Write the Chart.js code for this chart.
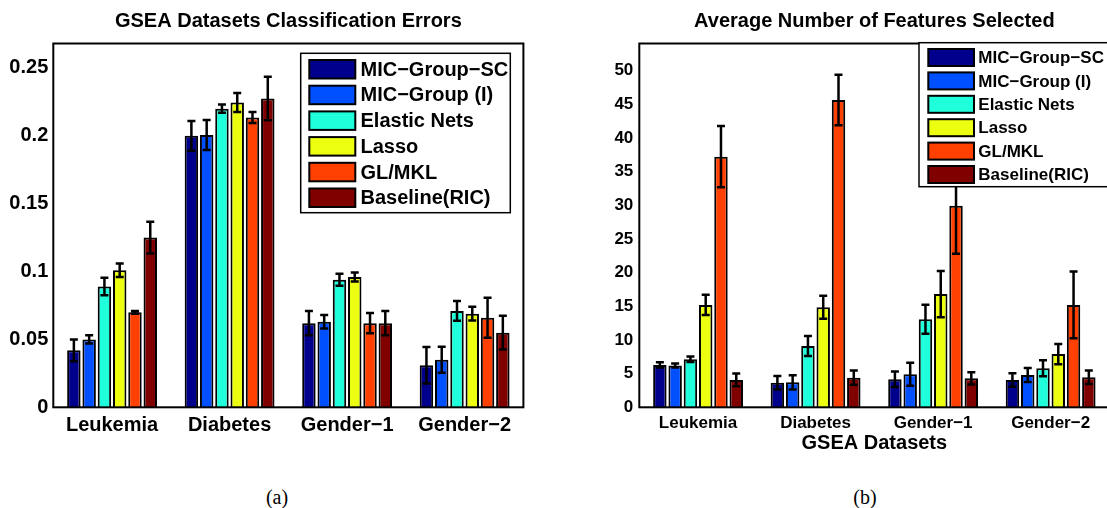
<!DOCTYPE html>
<html>
<head>
<meta charset="utf-8">
<script src="https://cdn.jsdelivr.net/npm/chart.js@4.4.0/dist/chart.umd.min.js"></script>
<style>
  html, body { margin: 0; padding: 0; background: #fff; }
  body { width: 1107px; height: 508px; overflow: hidden; position: relative; }
  canvas { position: absolute; top: 0; }
  #chartA { left: 0; }
  #chartB { left: 586px; }
  .cap { position: absolute; top: 486px; line-height: 20px; font: 20px "Liberation Serif", "Times New Roman", serif; transform: translateX(-50%); }
</style>
</head>
<body>
<canvas id="chartA" width="560" height="470"></canvas>
<canvas id="chartB" width="560" height="470"></canvas>
<div class="cap" style="left:277px">(a)</div>
<div class="cap" style="left:865px">(b)</div>
<script>
// GSEA datasets (x categories) and methods (bar series)
const datasets = ["Leukemia", "Diabetes", "Gender\u22121", "Gender\u22122"];
const methods = ["MIC\u2212Group\u2212SC", "MIC\u2212Group (I)", "Elastic Nets", "Lasso", "GL/MKL", "Baseline(RIC)"];
const methodColors = ["#00008c", "#0050ff", "#20ffdc", "#ecff10", "#ff4000", "#800000"];

// (a) classification errors, one row per method
const errMean = [
    [0.042, 0.200, 0.062, 0.031],
    [0.050, 0.2006, 0.063, 0.035],
    [0.089, 0.220, 0.094, 0.071],
    [0.101, 0.2245, 0.096, 0.069],
    [0.070, 0.2135, 0.062, 0.066],
    [0.125, 0.2275, 0.062, 0.055]
];
const errSd = [
    [0.008, 0.011, 0.009, 0.0135],
    [0.003, 0.011, 0.005, 0.0096],
    [0.0065, 0.003, 0.0044, 0.0073],
    [0.005, 0.007, 0.0033, 0.005],
    [0.001, 0.004, 0.0074, 0.0147],
    [0.0117, 0.016, 0.009, 0.0125]
];
const errTicks = [0, 0.05, 0.1, 0.15, 0.2, 0.25];

// (b) average number of features selected
const featMean = [
    [6.29, 3.66, 4.16, 4.06],
    [6.19, 3.70, 4.90, 4.80],
    [7.13, 9.10, 13.07, 5.80],
    [15.2, 14.85, 16.8, 7.90],
    [37.2, 45.6, 29.9, 15.2],
    [4.06, 4.40, 4.30, 4.46]
];
const featSd = [
    [0.4, 1.0, 1.15, 1.0],
    [0.3, 1.05, 1.7, 1.05],
    [0.4, 1.5, 2.15, 1.2],
    [1.5, 1.7, 3.45, 1.5],
    [4.55, 3.75, 7.1, 4.95],
    [0.95, 1.05, 0.9, 1.0]
];
const featTicks = [0, 5, 10, 15, 20, 25, 30, 35, 40, 45, 50];

const FONT = '"Liberation Sans", Arial, Helvetica, sans-serif';

// draw +/- sd whiskers on each bar
const errorBars = {
    id: 'errorBars',
    afterDatasetsDraw(chart) {
        const ctx = chart.ctx, y = chart.scales.y;
        ctx.save();
        ctx.strokeStyle = '#000';
        ctx.lineWidth = 2.5;
        chart.data.datasets.forEach((ds, di) => {
            chart.getDatasetMeta(di).data.forEach((bar, i) => {
                const top = y.getPixelForValue(ds.data[i] + ds.sd[i]);
                const bot = y.getPixelForValue(ds.data[i] - ds.sd[i]);
                ctx.beginPath();
                ctx.moveTo(bar.x, top); ctx.lineTo(bar.x, bot);
                ctx.moveTo(bar.x - 4, top); ctx.lineTo(bar.x + 4, top);
                ctx.moveTo(bar.x - 4, bot); ctx.lineTo(bar.x + 4, bot);
                ctx.stroke();
            });
        });
        ctx.restore();
    }
};

// matlab style box around the axes, title centred over the plot
const frame = {
    id: 'frame',
    afterDatasetsDraw(chart, args, o) {
        const {left, top, right, bottom} = chart.chartArea;
        const ctx = chart.ctx;
        ctx.save();
        ctx.strokeStyle = '#000';
        ctx.lineWidth = 2;
        ctx.strokeRect(left, top, right - left, bottom - top);
        ctx.fillStyle = '#000';
        ctx.font = 'bold 20px ' + FONT;
        ctx.textAlign = 'center';
        ctx.textBaseline = 'middle';
        ctx.fillText(o.title, (left + right) / 2, 21);
        ctx.restore();
    }
};

// legend box inside the plot
const boxLegend = {
    id: 'boxLegend',
    afterDatasetsDraw(chart, args, o) {
        const ctx = chart.ctx;
        ctx.save();
        ctx.fillStyle = '#fff';
        ctx.fillRect(o.x, o.y, o.w, o.h);
        ctx.strokeStyle = '#000';
        ctx.lineWidth = 1.5;
        ctx.strokeRect(o.x, o.y, o.w, o.h);
        ctx.font = 'bold ' + o.size + 'px ' + FONT;
        ctx.textBaseline = 'middle';
        chart.data.datasets.forEach((ds, i) => {
            const sy = o.sy + i * o.pitch;
            ctx.fillStyle = ds.backgroundColor;
            ctx.fillRect(o.sx, sy, o.sw, o.sh);
            ctx.lineWidth = 2;
            ctx.strokeRect(o.sx, sy, o.sw, o.sh);
            ctx.fillStyle = '#000';
            ctx.fillText(ds.label, o.tx, sy + o.sh / 2 + 1);
        });
        ctx.restore();
    }
};

function makeChart(id, means, sds, ticks, cfg) {
    const ds = methods.map((name, i) => ({
        label: name,
        data: means[i],
        sd: sds[i],
        backgroundColor: methodColors[i],
        borderColor: '#000',
        borderWidth: 2,
        categoryPercentage: 0.78,
        barPercentage: 0.88
    }));
    return new Chart(document.getElementById(id), {
        type: 'bar',
        data: { labels: datasets, datasets: ds },
        options: {
            responsive: false,
            animation: false,
            devicePixelRatio: 1,
            layout: { padding: { left: 0, right: 36.6, top: 43.5, bottom: 0 } },
            plugins: {
                legend: { display: false },
                tooltip: { enabled: false },
                title: { display: false },
                frame: { title: cfg.title },
                boxLegend: cfg.legend
            },
            scales: {
                x: {
                    grid: { display: false, drawTicks: false },
                    border: { display: false },
                    ticks: {
                        color: '#000', padding: cfg.xPad, maxRotation: 0, autoSkip: false,
                        font: { family: FONT, size: cfg.tickSize, weight: 'bold' }
                    },
                    title: {
                        display: !!cfg.xTitle,
                        text: cfg.xTitle || '',
                        color: '#000',
                        font: { family: FONT, size: 20, weight: 'bold' },
                        padding: { top: 0, bottom: 14.7 }
                    },
                    afterFit(s) { s.height = 62.7; }
                },
                y: {
                    min: 0,
                    max: cfg.yMax,
                    grid: { display: false, drawTicks: false },
                    border: { display: false },
                    afterBuildTicks(s) { s.ticks = ticks.map(v => ({ value: v })); },
                    ticks: {
                        color: '#000', padding: cfg.yPad,
                        font: { family: FONT, size: cfg.tickSize, weight: 'bold' },
                        callback: v => String(v)
                    },
                    afterFit(s) { s.width = 53.3; }
                }
            }
        },
        plugins: [errorBars, frame, boxLegend]
    });
}

makeChart('chartA', errMean, errSd, errTicks, {
    title: 'GSEA Datasets Classification Errors',
    yMax: 0.268,
    tickSize: 20,
    xPad: 5.7,
    yPad: 5,
    legend: { x: 300.7, y: 53.3, w: 209.6, h: 159.4, sx: 309.3, sy: 60, sw: 46, sh: 18.5, pitch: 25.7, tx: 360.5, size: 20 }
});

makeChart('chartB', featMean, featSd, featTicks, {
    title: 'Average Number of Features Selected',
    xTitle: 'GSEA Datasets',
    yMax: 54,
    tickSize: 17,
    xPad: 5.8,
    yPad: 6,
    legend: { x: 333, y: 42.7, w: 210, h: 144, sx: 342.3, sy: 49, sw: 45.7, sh: 17, pitch: 23.4, tx: 392.3, size: 17 }
});
</script>
</body>
</html>
